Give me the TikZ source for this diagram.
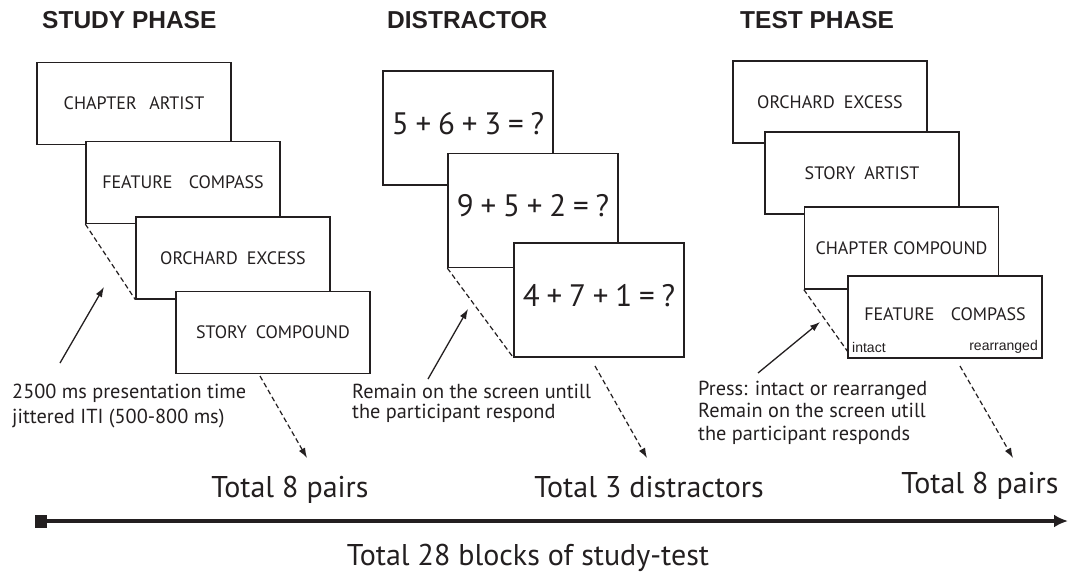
\documentclass[tikz,border=0pt]{standalone}
\usepackage{fontspec}
\setmainfont{PT Sans}
\newfontfamily\arialf{Liberation Sans}
\usetikzlibrary{arrows.meta}
\definecolor{ink}{HTML}{231F20}
\newcommand{\sumgap}{\hspace{0.22em}}
\begin{document}
\begin{tikzpicture}[x=1pt,y=-1pt,
  every node/.style={text=ink},
  heading/.style={font=\arialf\bfseries\fontsize{24.5}{27}\selectfont, anchor=base west, inner sep=0pt},
  wordbox/.style={draw=ink, fill=white, line width=1.3pt, minimum width=194pt, minimum height=82pt, inner sep=0pt, font=\fontsize{18}{20}\selectfont},
  sumbox/.style={draw=ink, fill=white, line width=1.3pt, minimum width=170pt, minimum height=114pt, inner sep=0pt, text depth=10pt, font=\fontsize{31}{34}\selectfont},
  note/.style={anchor=base west, align=left, inner sep=0pt},
  total/.style={font=\fontsize{30}{34}\selectfont, inner sep=0pt, anchor=base},
  small/.style={font=\arialf\fontsize{14}{16}\selectfont, inner sep=0pt},
  pointer/.style={draw=ink, line width=1.3pt, -{Latex[length=10pt,width=7pt]}},
  guide/.style={draw=ink, line width=1.2pt, dash pattern=on 5pt off 3pt},
  flow/.style={guide, -{Latex[length=10pt,width=7pt]}},
]
\useasboundingbox (0,0) rectangle (1069,573);

% headings
\node[heading] (hstudy) at (42,28) {STUDY PHASE};
\node[heading] (hdist) at (387,28) {DISTRACTOR};
\node[heading] (htest) at (740,28) {TEST PHASE};

% study phase
\node[wordbox] (s1) at (134,103.5) {CHAPTER\hspace{0.7em}ARTIST};
\node[wordbox] (s2) at (183,182.5) {FEATURE\hspace{0.9em}COMPASS};
\node[wordbox] (s3) at (233,258) {ORCHARD\hspace{0.5em}EXCESS};
\node[wordbox] (s4) at (273,332.5) {STORY\hspace{0.5em}COMPOUND};
\draw[guide] (s2.south west) -- (s3.south west);
\node[note, font=\fontsize{20.3}{25}\selectfont] (snote) at (12,423) {2500 ms presentation time\\jittered ITI (500-800 ms)};
\coordinate (sp0) at (60,363);
\coordinate (sp1) at (104,287);
\draw[pointer] (sp0) -- (sp1);
\coordinate (sf0) at (260,376);
\coordinate (sf1) at (307,458);
\draw[flow] (sf0) -- (sf1);

% distractor
\node[sumbox] (d1) at (468,128) {5\sumgap+\sumgap6\sumgap+\sumgap3\sumgap=\sumgap?};
\node[sumbox] (d2) at (533,210.5) {9\sumgap+\sumgap5\sumgap+\sumgap2\sumgap=\sumgap?};
\node[sumbox] (d3) at (599,300) {4\sumgap+\sumgap7\sumgap+\sumgap1\sumgap=\sumgap?};
\draw[guide] (d2.south west) -- (d3.south west);
\node[note, font=\fontsize{20.3}{20}\selectfont] (dnote) at (352,418) {Remain on the screen untill\\the participant respond};
\coordinate (dp0) at (428,379);
\coordinate (dp1) at (468,309);
\draw[pointer] (dp0) -- (dp1);
\coordinate (df0) at (595,366);
\coordinate (df1) at (647,458);
\draw[flow] (df0) -- (df1);

% test phase
\node[wordbox] (t1) at (830,102) {ORCHARD\hspace{0.5em}EXCESS};
\node[wordbox] (t2) at (862,173) {STORY\hspace{0.5em}ARTIST};
\node[wordbox] (t3) at (901.5,248) {CHAPTER COMPOUND};
\node[wordbox, text depth=5pt] (t4) at (945,317) {FEATURE\hspace{0.9em}COMPASS};
\node[small, anchor=west] (intact) at (852,347) {intact};
\node[small, anchor=east] (rearr) at (1038,347) {rearranged};
\coordinate (tg1) at (848,352);
\draw[guide] (t3.south west) -- (tg1);
\node[note, font=\fontsize{20.3}{22.5}\selectfont] (tnote) at (698,440) {Press: intact or rearranged\\Remain on the screen utill\\the participant responds};
\coordinate (tp0) at (758,373);
\coordinate (tp1) at (820,322);
\draw[pointer] (tp0) -- (tp1);
\coordinate (tf0) at (960,366);
\coordinate (tf1) at (1013,458);
\draw[flow] (tf0) -- (tf1);

% bottom
\node[total] (tot1) at (290,497) {Total 8 pairs};
\node[total] (tot2) at (649,497) {Total 3 distractors};
\node[total] (tot3) at (980,493) {Total 8 pairs};
\node[fill=ink, minimum width=12pt, minimum height=13pt, inner sep=0pt] (lstart) at (41,521) {};
\coordinate (lend) at (1068,521);
\draw[draw=ink, line width=3.5pt, -{Latex[length=14pt,width=13pt]}] (lstart.center) -- (lend);
\node[total] (blocks) at (528,565) {Total 28 blocks of study-test};
\end{tikzpicture}
\end{document}
